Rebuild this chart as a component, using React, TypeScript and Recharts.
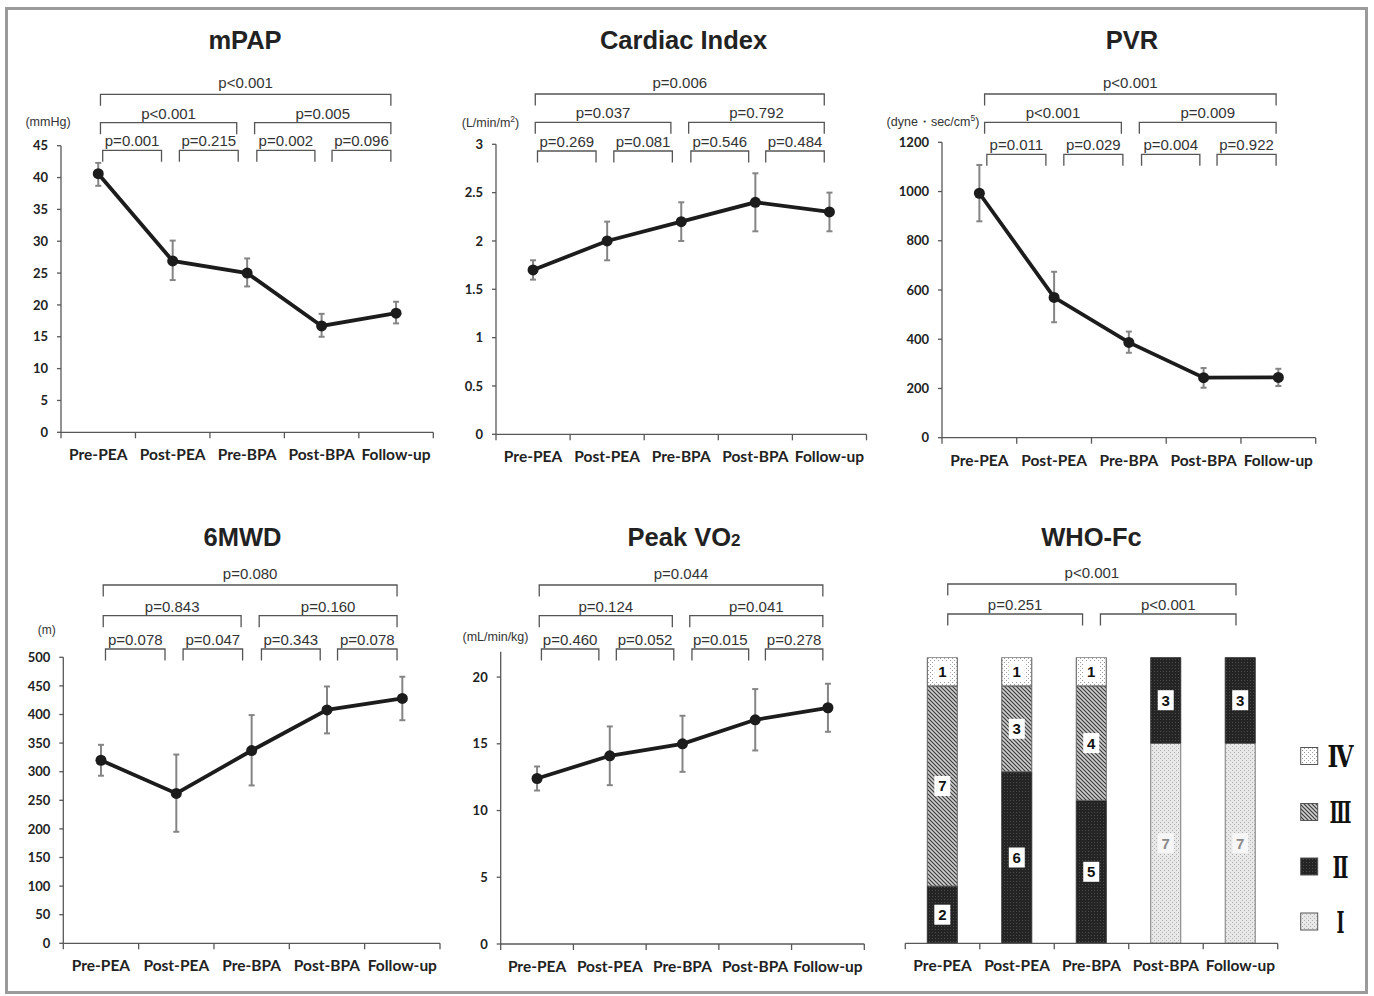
import React from 'react';
import { ComposedChart, Line, Bar, XAxis, YAxis, ErrorBar, ReferenceLine, LabelList } from 'recharts';

// ---------------- data ----------------
const CATEGORIES = ['Pre-PEA', 'Post-PEA', 'Pre-BPA', 'Post-BPA', 'Follow-up'];

const MPAP = [40.6, 26.9, 25.0, 16.7, 18.7];
const MPAP_ERR_LO = [1.9, 3.0, 2.1, 1.7, 1.6];
const MPAP_ERR_HI = [1.7, 3.2, 2.3, 1.9, 1.8];
const MPAP_TICKS = [0, 5, 10, 15, 20, 25, 30, 35, 40, 45];
// order: overall, first half, second half, four adjacent steps
const MPAP_P = ['p<0.001', 'p<0.001', 'p=0.005', 'p=0.001', 'p=0.215', 'p=0.002', 'p=0.096'];

const CI = [1.7, 2.0, 2.2, 2.4, 2.3];
const CI_ERR_LO = [0.1, 0.2, 0.2, 0.3, 0.2];
const CI_ERR_HI = [0.1, 0.2, 0.2, 0.3, 0.2];
const CI_TICKS = [0, 0.5, 1, 1.5, 2, 2.5, 3];
const CI_P = ['p=0.006', 'p=0.037', 'p=0.792', 'p=0.269', 'p=0.081', 'p=0.546', 'p=0.484'];

const PVR = [993, 570, 387, 244, 245];
const PVR_ERR_LO = [114, 101, 42, 41, 35];
const PVR_ERR_HI = [115, 104, 44, 39, 35];
const PVR_TICKS = [0, 200, 400, 600, 800, 1000, 1200];
const PVR_P = ['p<0.001', 'p<0.001', 'p=0.009', 'p=0.011', 'p=0.029', 'p=0.004', 'p=0.922'];

const SIXMWD = [320, 262, 337, 408, 428];
const SIXMWD_ERR_LO = [27, 67, 61, 41, 38];
const SIXMWD_ERR_HI = [27, 68, 62, 41, 38];
const SIXMWD_TICKS = [0, 50, 100, 150, 200, 250, 300, 350, 400, 450, 500];
const SIXMWD_P = ['p=0.080', 'p=0.843', 'p=0.160', 'p=0.078', 'p=0.047', 'p=0.343', 'p=0.078'];

const VO2 = [12.4, 14.1, 15.0, 16.8, 17.7];
const VO2_ERR_LO = [0.9, 2.2, 2.1, 2.3, 1.8];
const VO2_ERR_HI = [0.9, 2.2, 2.1, 2.3, 1.8];
const VO2_TICKS = [0, 5, 10, 15, 20];
const VO2_P = ['p=0.044', 'p=0.124', 'p=0.041', 'p=0.460', 'p=0.052', 'p=0.015', 'p=0.278'];

const WHO_I = [0, 0, 0, 7, 7];
const WHO_II = [2, 6, 5, 3, 3];
const WHO_III = [7, 3, 4, 0, 0];
const WHO_IV = [1, 1, 1, 0, 0];
const WHO_P = ['p<0.001', 'p=0.251', 'p<0.001'];
const WHO_CLASSES = ['Ⅰ', 'Ⅱ', 'Ⅲ', 'Ⅳ'];

// ---------------- style / layout ----------------
const FONT_LABEL = 'Lato, "Open Sans", sans-serif';
const FONT_ARIAL = '"Liberation Sans", Arial, sans-serif';
const AXIS = '#585858';
const BRACKET = '#555';
const XH = 36;
const DROP = 11.5;
const TEXT_GAP = [6.5, 4, 4]; // baseline gap above bracket, per level

// bracket spans in category-index units (layout)
const SPANS = [[0.03, 3.93], [0.03, 1.86], [2.1, 3.93], [0.06, 0.85], [1.09, 1.88], [2.13, 2.91], [3.14, 3.93]];
const LEVEL_IDX = [0, 1, 1, 2, 2, 2, 2];
const WHO_SPANS = [[0.07, 3.94], [0.07, 1.88], [2.12, 3.94]];
const WHO_LEVEL_IDX = [0, 1, 1];

function CatTick(props: any) {
  const { x, y, payload, index, half } = props;
  const label = CATEGORIES[payload.value] ?? payload.value;
  const isLast = index === CATEGORIES.length - 1;
  return (
    <g>
      <line x1={x - half} x2={x - half} y1={y} y2={y + 6} stroke={AXIS} strokeWidth={1.3} />
      {isLast && <line x1={x + half} x2={x + half} y1={y} y2={y + 6} stroke={AXIS} strokeWidth={1.3} />}
      <text x={x} y={y + 28} textAnchor="middle" fill="#222" fontFamily={FONT_LABEL} fontWeight={700} fontSize={15.5}>
        {label}
      </text>
    </g>
  );
}

function Bracket(props: any) {
  const { x1, x2, ly, text, gap } = props;
  return (
    <g>
      <path d={`M${x1},${ly + DROP}V${ly}H${x2}V${ly + DROP}`} fill="none" stroke={BRACKET} strokeWidth={1.3} />
      <text x={(x1 + x2) / 2} y={ly - gap} textAnchor="middle" fontFamily={FONT_ARIAL} fontSize={15} fill="#333">
        {text}
      </text>
    </g>
  );
}

type Box = { left: number; top: number; w: number; h: number };
type Plot = { x0: number; x1: number; y0: number; y1: number };

function makeMargin(box: Box, plot: Plot, yAxisW: number) {
  return {
    top: plot.y0 - box.top,
    left: plot.x0 - box.left - yAxisW,
    right: box.left + box.w - plot.x1,
    bottom: box.top + box.h - plot.y1 - XH,
  };
}

function xAxisEl(plot: Plot) {
  const half = (plot.x1 - plot.x0) / (CATEGORIES.length * 2);
  return (
    <XAxis
      type="number"
      dataKey="i"
      domain={[-0.5, CATEGORIES.length - 0.5]}
      ticks={CATEGORIES.map((_, k) => k)}
      interval={0}
      height={XH}
      tickLine={false}
      tickSize={0}
      tickMargin={0}
      allowDataOverflow
      axisLine={{ stroke: AXIS, strokeWidth: 1.3 }}
      tick={(p: any) => <CatTick {...p} half={half} />}
    />
  );
}

function brackets(labels: string[], spans: number[][], levelIdx: number[], levels: number[], box: Box, yTop: number, shift: number) {
  return labels.map((lab, k) => {
    const [a, b] = spans[k];
    const lvl = levelIdx[k];
    const ly = levels[lvl] - box.top;
    return (
      <ReferenceLine
        key={'br' + k}
        segment={[{ x: a + shift, y: yTop }, { x: b + shift, y: yTop }]}
        ifOverflow="visible"
        shape={(sp: any) => <Bracket {...sp} ly={ly} text={lab} gap={TEXT_GAP[lvl]} />}
      />
    );
  });
}

type LinePanelProps = {
  box: Box;
  plot: Plot;
  values: number[];
  lo: number[];
  hi: number[];
  yMax: number;
  ticks: number[];
  pLabels: string[];
  levels: number[];
  shift?: number;
};

function LinePanel({ box, plot, values, lo, hi, yMax, ticks, pLabels, levels, shift = 0 }: LinePanelProps) {
  const data = values.map((v, i) => ({ i, v, err: [lo[i], hi[i]] }));
  const yW = plot.x0 - box.left;
  const margin = makeMargin(box, plot, yW);
  return (
    <div style={{ position: 'absolute', left: box.left, top: box.top }}>
      <ComposedChart width={box.w} height={box.h} data={data} margin={margin}>
        {xAxisEl(plot)}
        <YAxis
          type="number"
          domain={[0, yMax]}
          ticks={ticks}
          interval={0}
          width={yW}
          allowDataOverflow
          tickSize={4}
          tickMargin={9}
          axisLine={{ stroke: AXIS, strokeWidth: 1.3 }}
          tickLine={{ stroke: AXIS, strokeWidth: 1.3 }}
          tick={{ fill: '#222', fontSize: 13, fontWeight: 700, fontFamily: FONT_LABEL }}
        />
        {brackets(pLabels, SPANS, LEVEL_IDX, levels, box, yMax, shift)}
        <Line
          type="linear"
          dataKey="v"
          stroke="#1c1c1c"
          strokeWidth={3.8}
          dot={{ r: 5.5, fill: '#1c1c1c', stroke: 'none' }}
          activeDot={false}
          isAnimationActive={false}
        >
          <ErrorBar dataKey="err" direction="y" width={3} strokeWidth={2} stroke="#858585" isAnimationActive={false} />
        </Line>
      </ComposedChart>
    </div>
  );
}

const segLabel = (color: string, boxFill: string) => (p: any) => {
  if (!p.value) return null;
  const vb = p.viewBox ?? p;
  const { x, y, width, height } = vb;
  const cx = x + width / 2;
  const cy = y + height / 2;
  return (
    <g>
      <rect x={cx - 8} y={cy - 10} width={16} height={20} fill={boxFill} />
      <text x={cx} y={cy + 5.4} textAnchor="middle" fontFamily={FONT_ARIAL} fontWeight={700} fontSize={15} fill={color}>
        {p.value}
      </text>
    </g>
  );
};

function WhoPanel() {
  const box: Box = { left: 880, top: 550, w: 420, h: 430 };
  const plot: Plot = { x0: 905.3, x1: 1277.7, y0: 657.3, y1: 943.3 };
  const data = CATEGORIES.map((_, i) => ({ i, I: WHO_I[i], II: WHO_II[i], III: WHO_III[i], IV: WHO_IV[i] }));
  const margin = makeMargin(box, plot, 0);
  return (
    <div style={{ position: 'absolute', left: box.left, top: box.top }}>
      <ComposedChart width={box.w} height={box.h} data={data} margin={margin}>
        {xAxisEl(plot)}
        <YAxis hide type="number" domain={[0, 10]} allowDataOverflow />
        {brackets(WHO_P, WHO_SPANS, WHO_LEVEL_IDX, [584, 614], box, 10, 0)}
        <Bar dataKey="I" stackId="s" barSize={30} fill="url(#patI)" stroke="#7a7a7a" strokeWidth={1} isAnimationActive={false}>
          <LabelList dataKey="I" content={segLabel('#8a8a8a', '#f6f6f6')} />
        </Bar>
        <Bar dataKey="II" stackId="s" barSize={30} fill="url(#patII)" stroke="#333" strokeWidth={1} isAnimationActive={false}>
          <LabelList dataKey="II" content={segLabel('#111', '#fff')} />
        </Bar>
        <Bar dataKey="III" stackId="s" barSize={30} fill="url(#patIII)" stroke="#666" strokeWidth={1} isAnimationActive={false}>
          <LabelList dataKey="III" content={segLabel('#111', '#fff')} />
        </Bar>
        <Bar dataKey="IV" stackId="s" barSize={30} fill="url(#patIV)" stroke="#555" strokeWidth={1} isAnimationActive={false}>
          <LabelList dataKey="IV" content={segLabel('#111', '#fff')} />
        </Bar>
      </ComposedChart>
    </div>
  );
}

function Patterns() {
  return (
    <defs>
      <pattern id="patIV" width="4" height="4" patternUnits="userSpaceOnUse">
        <rect width="4" height="4" fill="#fff" />
        <rect x="0" y="0" width="1" height="1" fill="#9a9a9a" />
        <rect x="2" y="2" width="1" height="1" fill="#9a9a9a" />
      </pattern>
      <pattern id="patIII" width="4" height="4" patternUnits="userSpaceOnUse">
        <rect width="4" height="4" fill="#cfcfcf" />
        <path d="M-1,-1L5,5M3,-1L5,1M-1,3L1,5" stroke="#3a3a3a" strokeWidth="1.2" />
      </pattern>
      <pattern id="patII" width="3" height="3" patternUnits="userSpaceOnUse">
        <rect width="3" height="3" fill="#242424" />
        <rect x="1" y="1" width="1" height="1" fill="#4a4a4a" />
      </pattern>
      <pattern id="patI" width="4" height="4" patternUnits="userSpaceOnUse">
        <rect width="4" height="4" fill="#e8e8e8" />
        <rect x="0" y="0" width="1" height="1" fill="#b0b0b0" />
        <rect x="2" y="2" width="1" height="1" fill="#b0b0b0" />
      </pattern>
    </defs>
  );
}

const LEGEND_ROWS = [
  { cls: 3, fill: 'url(#patIV)', cy: 756, len: 26 },
  { cls: 2, fill: 'url(#patIII)', cy: 812, len: 22 },
  { cls: 1, fill: 'url(#patII)', cy: 866.5, len: 16 },
  { cls: 0, fill: 'url(#patI)', cy: 921.5, len: 8 },
];

function Overlay() {
  const titleStyle = { fontFamily: FONT_ARIAL, fontWeight: 700, fontSize: 25.5, fill: '#222' } as const;
  const unitStyle = { fontFamily: FONT_ARIAL, fontSize: 12.5, fill: '#333' } as const;
  return (
    <svg width={1374} height={996} style={{ position: 'absolute', left: 0, top: 0, pointerEvents: 'none' }}>
      <Patterns />
      <text x={245} y={48.5} textAnchor="middle" {...titleStyle}>mPAP</text>
      <text x={683.5} y={48.5} textAnchor="middle" {...titleStyle}>Cardiac Index</text>
      <text x={1132} y={48.5} textAnchor="middle" {...titleStyle}>PVR</text>
      <text x={242.5} y={546} textAnchor="middle" {...titleStyle}>6MWD</text>
      <text x={684} y={546} textAnchor="middle" {...titleStyle}>
        Peak VO<tspan fontSize={17}>2</tspan>
      </text>
      <text x={1091.5} y={546} textAnchor="middle" {...titleStyle}>WHO-Fc</text>

      <text x={48} y={125.5} textAnchor="middle" {...unitStyle}>(mmHg)</text>
      <text x={490.5} y={127} textAnchor="middle" {...unitStyle}>
        (L/min/m<tspan dy={-5} fontSize={8.5}>2</tspan><tspan dy={5}>)</tspan>
      </text>
      <text x={933} y={126} textAnchor="middle" {...unitStyle}>
        (dyne・sec/cm<tspan dy={-5} fontSize={8.5}>5</tspan><tspan dy={5}>)</tspan>
      </text>
      <text x={46.7} y={633.5} textAnchor="middle" {...unitStyle} fontSize={12}>(m)</text>
      <text x={495.5} y={641} textAnchor="middle" {...unitStyle}>(mL/min/kg)</text>

      {LEGEND_ROWS.map((r) => (
        <g key={r.cls}>
          <rect x={1300.7} y={r.cy - 8.5} width={17} height={17} fill={r.fill} stroke="#555" strokeWidth={1} />
          <text
            x={1340.5 - r.len / 2}
            y={r.cy + 11}
            textLength={r.len}
            lengthAdjust="spacingAndGlyphs"
            fontFamily='"DejaVu Serif", "Liberation Serif", serif'
            fontWeight={700}
            fontSize={30}
            fill="#111"
          >
            {WHO_CLASSES[r.cls]}
          </text>
        </g>
      ))}
    </svg>
  );
}

export default function App() {
  return (
    <div style={{ position: 'absolute', left: 0, top: 0, width: 1374, height: 996, background: '#fff', overflow: 'hidden' }}>
      <div
        style={{
          position: 'absolute',
          left: 5,
          top: 7,
          width: 1363,
          height: 987,
          border: '3.5px solid #9b9b9b',
          boxSizing: 'border-box',
        }}
      />
      <LinePanel
        box={{ left: 0, top: 60, w: 450, h: 420 }}
        plot={{ x0: 61, x1: 433.3, y0: 145.7, y1: 432.3 }}
        values={MPAP}
        lo={MPAP_ERR_LO}
        hi={MPAP_ERR_HI}
        yMax={45}
        ticks={MPAP_TICKS}
        pLabels={MPAP_P}
        levels={[94.3, 122.7, 150.3]}
      />
      <LinePanel
        box={{ left: 440, top: 60, w: 440, h: 420 }}
        plot={{ x0: 496, x1: 866.5, y0: 144.3, y1: 434.3 }}
        values={CI}
        lo={CI_ERR_LO}
        hi={CI_ERR_HI}
        yMax={3}
        ticks={CI_TICKS}
        pLabels={CI_P}
        levels={[94, 122.3, 151]}
      />
      <LinePanel
        box={{ left: 880, top: 60, w: 450, h: 420 }}
        plot={{ x0: 942, x1: 1315.7, y0: 142.3, y1: 437.7 }}
        values={PVR}
        lo={PVR_ERR_LO}
        hi={PVR_ERR_HI}
        yMax={1200}
        ticks={PVR_TICKS}
        pLabels={PVR_P}
        levels={[94, 122.3, 154.3]}
        shift={0.04}
      />
      <LinePanel
        box={{ left: 0, top: 550, w: 450, h: 430 }}
        plot={{ x0: 63.3, x1: 440, y0: 657.3, y1: 943.3 }}
        values={SIXMWD}
        lo={SIXMWD_ERR_LO}
        hi={SIXMWD_ERR_HI}
        yMax={500}
        ticks={SIXMWD_TICKS}
        pLabels={SIXMWD_P}
        levels={[585, 615.7, 649]}
      />
      <LinePanel
        box={{ left: 440, top: 550, w: 440, h: 430 }}
        plot={{ x0: 500.7, x1: 864.3, y0: 651.7, y1: 944 }}
        values={VO2}
        lo={VO2_ERR_LO}
        hi={VO2_ERR_HI}
        yMax={21.9}
        ticks={VO2_TICKS}
        pLabels={VO2_P}
        levels={[585, 615.7, 649]}
      />
      <WhoPanel />
      <Overlay />
    </div>
  );
}
